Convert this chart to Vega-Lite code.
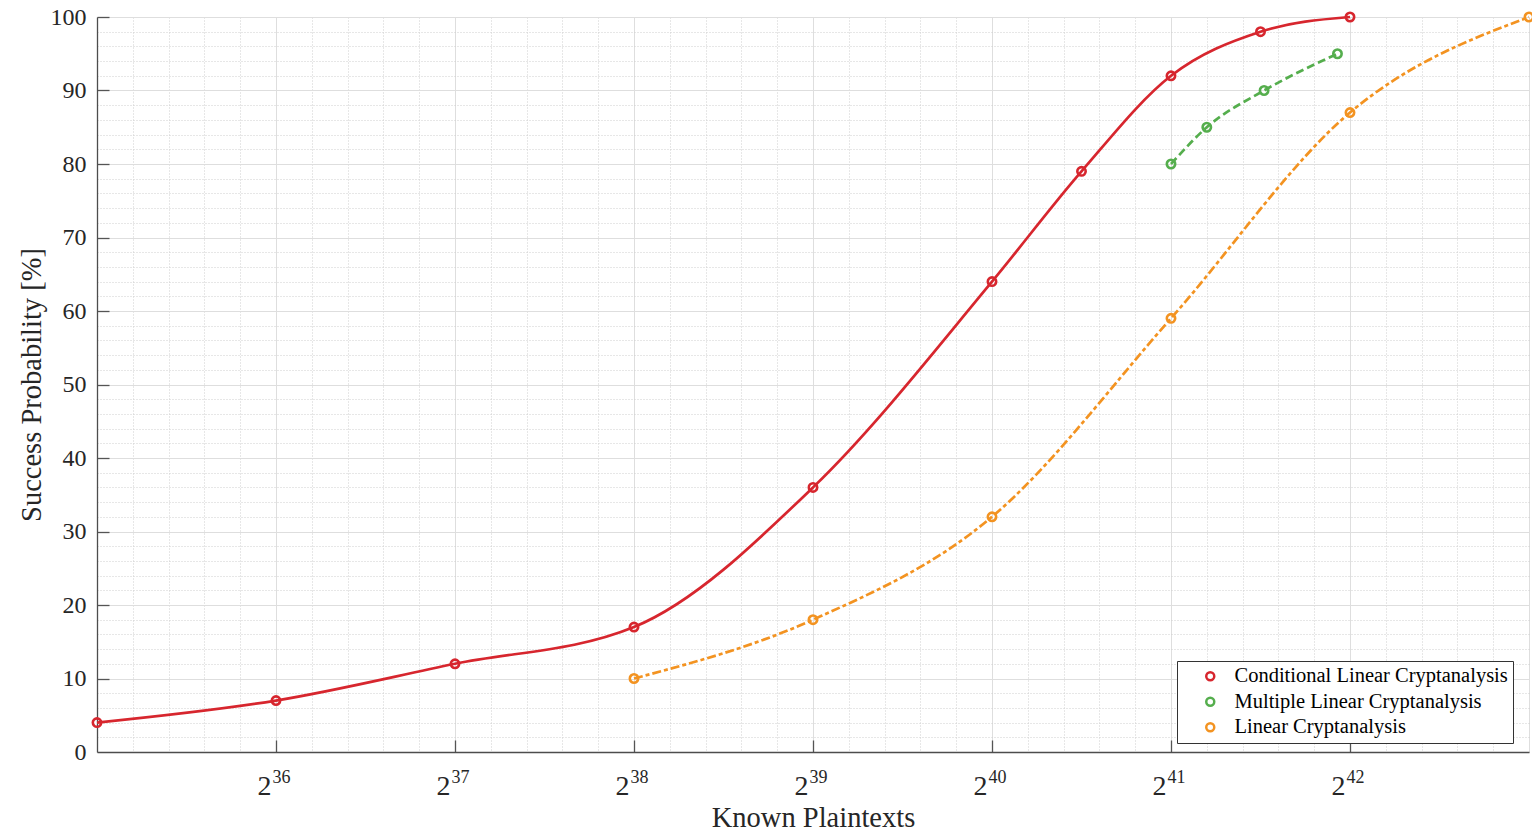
{
  "$schema": "https://vega.github.io/schema/vega-lite/v6.json",
  "width": 1432,
  "height": 735,
  "autosize": {"type": "none"},
  "padding": {"left": 97, "top": 17, "right": 3, "bottom": 84},
  "background": "white",
  "config": {
    "view": {"stroke": null},
    "font": "Liberation Serif",
    "axis": {
      "labelFont": "Liberation Serif",
      "titleFont": "Liberation Serif",
      "labelColor": "#262626",
      "titleColor": "#262626",
      "titleFontWeight": "normal",
      "domainColor": "#4d4d4d",
      "domainWidth": 1.3,
      "tickColor": "#555555",
      "tickWidth": 1.3
    }
  },
  "data": {
    "values": [
      {"series": "Conditional Linear Cryptanalysis", "log2_plaintexts": 35, "success": 4},
      {"series": "Conditional Linear Cryptanalysis", "log2_plaintexts": 36, "success": 7},
      {"series": "Conditional Linear Cryptanalysis", "log2_plaintexts": 37, "success": 12},
      {"series": "Conditional Linear Cryptanalysis", "log2_plaintexts": 38, "success": 17},
      {"series": "Conditional Linear Cryptanalysis", "log2_plaintexts": 39, "success": 36},
      {"series": "Conditional Linear Cryptanalysis", "log2_plaintexts": 40, "success": 64},
      {"series": "Conditional Linear Cryptanalysis", "log2_plaintexts": 40.5, "success": 79},
      {"series": "Conditional Linear Cryptanalysis", "log2_plaintexts": 41, "success": 92},
      {"series": "Conditional Linear Cryptanalysis", "log2_plaintexts": 41.5, "success": 98},
      {"series": "Conditional Linear Cryptanalysis", "log2_plaintexts": 42, "success": 100},
      {"series": "Multiple Linear Cryptanalysis", "log2_plaintexts": 41, "success": 80},
      {"series": "Multiple Linear Cryptanalysis", "log2_plaintexts": 41.2, "success": 85},
      {"series": "Multiple Linear Cryptanalysis", "log2_plaintexts": 41.52, "success": 90},
      {"series": "Multiple Linear Cryptanalysis", "log2_plaintexts": 41.93, "success": 95},
      {"series": "Linear Cryptanalysis", "log2_plaintexts": 38, "success": 10},
      {"series": "Linear Cryptanalysis", "log2_plaintexts": 39, "success": 18},
      {"series": "Linear Cryptanalysis", "log2_plaintexts": 40, "success": 32},
      {"series": "Linear Cryptanalysis", "log2_plaintexts": 41, "success": 59},
      {"series": "Linear Cryptanalysis", "log2_plaintexts": 42, "success": 87},
      {"series": "Linear Cryptanalysis", "log2_plaintexts": 43, "success": 100}
    ]
  },
  "resolve": {"scale": {"x": "shared", "y": "shared"}, "axis": {"x": "independent", "y": "independent"}},
  "encoding": {
    "x": {
      "field": "log2_plaintexts",
      "type": "quantitative",
      "scale": {"domain": [35, 43], "nice": false, "zero": false},
      "axis": null
    },
    "y": {
      "field": "success",
      "type": "quantitative",
      "scale": {"domain": [0, 100], "nice": false},
      "axis": null
    },
    "color": {
      "field": "series",
      "type": "nominal",
      "scale": {
        "domain": ["Conditional Linear Cryptanalysis", "Multiple Linear Cryptanalysis", "Linear Cryptanalysis"],
        "range": ["#D7262E", "#55AE4D", "#F39321"]
      },
      "legend": {
        "title": null,
        "orient": "none",
        "legendX": 1080,
        "legendY": 644,
        "fillColor": "white",
        "strokeColor": "#333333",
        "padding": 5,
        "symbolOffset": 18,
        "labelOffset": 14,
        "labelFont": "Liberation Serif",
        "labelFontSize": 20.5,
        "labelColor": "#000000",
        "labelLimit": 400,
        "rowPadding": 4.5,
        "symbolType": "circle",
        "symbolSize": 64,
        "symbolStrokeWidth": 2.5,
        "symbolFillColor": "transparent"
      }
    }
  },
  "layer": [
    {
      "transform": [{"filter": "datum.series == 'Conditional Linear Cryptanalysis'"}],
      "mark": {"type": "line", "interpolate": "monotone", "strokeWidth": 2.7},
      "encoding": {
        "x": {
          "field": "log2_plaintexts",
          "type": "quantitative",
          "scale": {"domain": [35, 43], "nice": false, "zero": false},
          "axis": {
            "orient": "bottom",
            "title": "Known Plaintexts",
            "titleFontSize": 28.5,
            "titleBaseline": "alphabetic",
            "titleY": 74,
            "values": [35, 35.2, 35.4, 35.6, 35.8, 36, 36.2, 36.4, 36.6, 36.8, 37, 37.2, 37.4, 37.6, 37.8, 38, 38.2, 38.4, 38.6, 38.8, 39, 39.2, 39.4, 39.6, 39.8, 40, 40.2, 40.4, 40.6, 40.8, 41, 41.2, 41.4, 41.6, 41.8, 42, 42.2, 42.4, 42.6, 42.8, 43],
            "labelExpr": "(datum.value % 1 == 0 && datum.value > 35 && datum.value < 43) ? '2' : ''",
            "labelFontSize": 28,
            "labelBaseline": "alphabetic",
            "labelPadding": 54,
            "labelOffset": -12,
            "labelFlush": false,
            "labelOverlap": false,
            "tickSize": -12,
            "tickOpacity": {"condition": {"test": "datum.value % 1 == 0 && datum.value > 35 && datum.value < 43", "value": 1}, "value": 0},
            "grid": true,
            "gridColor": {"condition": {"test": "datum.value % 1 == 0", "value": "#dedede"}, "value": "#cfcfcf"},
            "gridDash": {"condition": {"test": "datum.value % 1 == 0", "value": []}, "value": [1, 2]},
            "gridWidth": 1
          }
        },
        "y": {
          "field": "success",
          "type": "quantitative",
          "scale": {"domain": [0, 100], "nice": false},
          "axis": {
            "orient": "left",
            "title": "Success Probability [%]",
            "titleFontSize": 28.5,
            "titleBaseline": "alphabetic",
            "titleX": -57,
            "values": [0, 2, 4, 6, 8, 10, 12, 14, 16, 18, 20, 22, 24, 26, 28, 30, 32, 34, 36, 38, 40, 42, 44, 46, 48, 50, 52, 54, 56, 58, 60, 62, 64, 66, 68, 70, 72, 74, 76, 78, 80, 82, 84, 86, 88, 90, 92, 94, 96, 98, 100],
            "labelExpr": "datum.value % 10 == 0 ? datum.label : ''",
            "labelFontSize": 24,
            "labelPadding": 23,
            "labelFlush": false,
            "labelOverlap": false,
            "tickSize": -12,
            "tickOpacity": {"condition": {"test": "datum.value % 10 == 0 && datum.value > 0", "value": 1}, "value": 0},
            "grid": true,
            "gridColor": {"condition": {"test": "datum.value % 10 == 0", "value": "#dedede"}, "value": "#cfcfcf"},
            "gridDash": {"condition": {"test": "datum.value % 10 == 0", "value": []}, "value": [1, 2]},
            "gridWidth": 1
          }
        }
      }
    },
    {
      "transform": [{"filter": "datum.series == 'Multiple Linear Cryptanalysis'"}],
      "mark": {"type": "line", "interpolate": "monotone", "strokeWidth": 2.7, "strokeDash": [8, 4]},
      "encoding": {}
    },
    {
      "transform": [{"filter": "datum.series == 'Linear Cryptanalysis'"}],
      "mark": {"type": "line", "interpolate": "monotone", "strokeWidth": 2.7, "strokeDash": [9, 3, 4, 3]},
      "encoding": {}
    },
    {
      "mark": {"type": "point", "shape": "circle", "filled": false, "size": 70, "strokeWidth": 2.6, "opacity": 1},
      "encoding": {
        "x": {
          "field": "log2_plaintexts",
          "type": "quantitative",
          "scale": {"domain": [35, 43], "nice": false, "zero": false},
          "axis": {
            "orient": "bottom",
            "title": null,
            "domain": false,
            "ticks": false,
            "grid": false,
            "values": [36, 37, 38, 39, 40, 41, 42],
            "labelExpr": "toString(datum.value)",
            "labelFontSize": 18,
            "labelBaseline": "alphabetic",
            "labelPadding": 30,
            "labelOffset": 5,
            "labelFlush": false,
            "labelOverlap": false
          }
        }
      }
    }
  ]
}
